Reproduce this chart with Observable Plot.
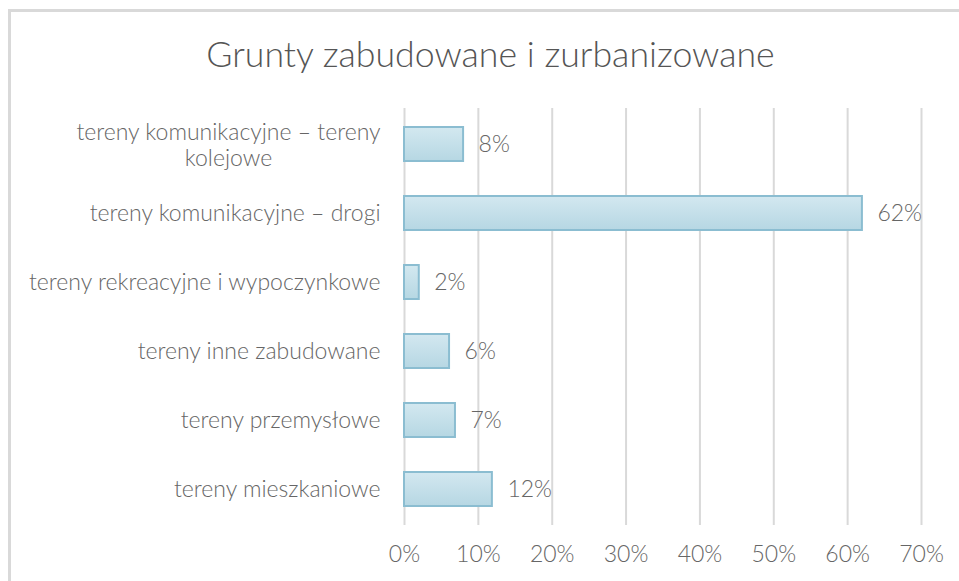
<!DOCTYPE html>
<html><head><meta charset="utf-8">
<script src="https://cdn.jsdelivr.net/npm/d3@7"></script>
<script src="https://cdn.jsdelivr.net/npm/@observablehq/plot@0.6"></script>
<style>
html,body{margin:0;padding:0;background:#fff;overflow:hidden;width:959px;height:581px;}
#frame{position:absolute;left:8px;top:9px;width:1000px;height:700px;border-left:3px solid #d9d9d9;border-top:3px solid #d9d9d9;}
#title{position:absolute;left:0;width:981px;top:32px;text-align:center;font-family:Lato;font-weight:300;font-size:35.7px;color:#555555;white-space:nowrap;}
#chart{position:absolute;left:0;top:95px;}
</style></head><body>
<div id="frame"></div>
<div id="title">Grunty zabudowane i zurbanizowane</div>
<div id="chart"></div>
<script>
const categories = [
  "tereny komunikacyjne – tereny kolejowe",
  "tereny komunikacyjne – drogi",
  "tereny rekreacyjne i wypoczynkowe",
  "tereny inne zabudowane",
  "tereny przemysłowe",
  "tereny mieszkaniowe"
];
const values = [8.0, 62.0, 2.0, 6.1, 6.9, 11.9];
const xTicks = [0, 10, 20, 30, 40, 50, 60, 70];
const wrappedLabels = {"tereny komunikacyjne – tereny kolejowe": "tereny komunikacyjne – tereny\nkolejowe"};

const data = categories.map((c, i) => ({category: c, value: values[i]}));
const singleLine = categories.filter(c => !wrappedLabels[c]);
const multiLine = categories.filter(c => wrappedLabels[c]);

const textColor = "#666666";
const plot = Plot.plot({
  width: 959, height: 486,
  marginLeft: 404, marginRight: 38, marginTop: 13, marginBottom: 56,
  style: {fontFamily: "Lato", fontWeight: 300, fontSize: "23px", color: textColor, background: "transparent", overflow: "visible"},
  x: {domain: [0, 70], label: null},
  y: {domain: categories, paddingInner: 0.51, paddingOuter: 0.255, label: null},
  marks: [
    Plot.gridX(xTicks, {stroke: "#d9d9d9", strokeWidth: 2, strokeOpacity: 1}),
    Plot.axisX(xTicks, {tickSize: 0, tickPadding: 20, tickFormat: d => d + "%", label: null, fill: textColor}),
    Plot.axisY(singleLine, {tickSize: 0, tickPadding: 24, label: null, fill: textColor}),
    Plot.axisY(multiLine, {tickSize: 0, tickPadding: 0, dx: -176, textAnchor: "middle", lineHeight: 1.15,
      tickFormat: d => wrappedLabels[d], label: null, fill: textColor}),
    Plot.barX(data, {y: "category", x: "value", fill: "url(#barGrad)", stroke: "#8bbdd1", strokeWidth: 2}),
    Plot.text(data, {y: "category", x: "value", text: d => Math.round(d.value) + "%", textAnchor: "start", dx: 15, fill: textColor})
  ]
});
const svg = d3.select(plot);
const grad = svg.insert("defs", ":first-child").append("linearGradient")
  .attr("id", "barGrad").attr("x1", 0).attr("y1", 0).attr("x2", 0).attr("y2", 1);
grad.append("stop").attr("offset", "0%").attr("stop-color", "#d3e8f0");
grad.append("stop").attr("offset", "100%").attr("stop-color", "#b6d7e3");
document.getElementById("chart").appendChild(plot);
</script>
</body></html>
